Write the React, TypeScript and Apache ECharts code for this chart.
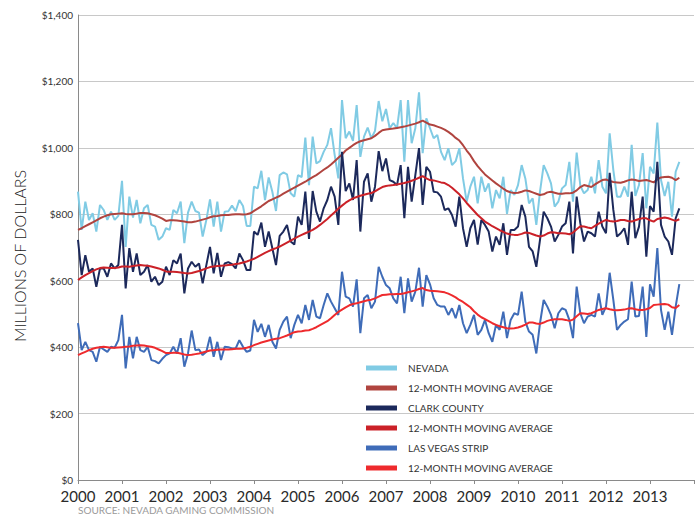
import React, { useEffect, useRef } from "react";
import * as echarts from "echarts";

// Monthly gaming revenue, Jan 2000 – Sep 2013 (millions of dollars)
const START_YEAR = 2000;
const yearTicks = [2000, 2001, 2002, 2003, 2004, 2005, 2006, 2007, 2008, 2009, 2010, 2011, 2012, 2013];

const nevada = [
  868, 753, 838, 783, 803, 748, 828, 813, 783, 808, 783, 795,
  901, 702, 853, 790, 843, 773, 818, 828, 768, 763, 723, 733,
  758, 753, 813, 803, 838, 713, 805, 838, 810, 805, 733, 783,
  845, 763, 838, 748, 808, 809, 826, 809, 843, 825, 765, 765,
  883, 878, 931, 843, 911, 868, 810, 918, 926, 920, 863, 853,
  918, 912, 1031, 888, 1034, 953, 960, 988, 1009, 1059, 979, 908,
  1144, 1029, 1049, 1021, 1129, 973, 1034, 1061, 1029, 1051, 1141, 1080,
  1117, 1059, 1075, 1059, 1144, 958, 1144, 1014, 1059, 1167, 984, 1089,
  1059, 1029, 1039, 988, 963, 999, 948, 960, 999, 908, 838, 883,
  913, 833, 913, 868, 893, 818, 873, 848, 913, 801, 873, 858,
  888, 948, 908, 833, 848, 768, 868, 948, 923, 893, 823, 838,
  878, 888, 958, 838, 986, 886, 863, 873, 913, 863, 963, 883,
  863, 1044, 933, 853, 853, 883, 853, 1009, 855, 888, 984, 818,
  943, 923, 1076, 903, 855, 898, 793, 928, 958,
];

const nevadaAvg = [
  753, 758, 764, 770, 776, 782, 788, 793, 797, 800, 801, 802,
  803, 801, 800, 800, 802, 804, 804, 803, 800, 797, 792, 787,
  780, 782, 782, 781, 780, 778, 776, 776, 778, 781, 784, 787,
  791, 794, 795, 797, 798, 798, 799, 800, 800, 799, 800, 803,
  810, 817, 824, 832, 840, 845, 850, 855, 862, 868, 874, 880,
  886, 892, 898, 905, 912, 918, 926, 934, 941, 950, 960, 970,
  980, 992, 1000, 1008, 1015, 1020, 1023, 1026, 1029, 1036, 1045, 1053,
  1055, 1057, 1058, 1060, 1062, 1064, 1067, 1070, 1073, 1077, 1082, 1076,
  1070, 1068, 1064, 1060, 1055, 1048, 1040, 1030, 1022, 1008, 992, 978,
  960, 945, 932, 920, 911, 902, 893, 885, 877, 870, 866, 864,
  865, 868, 872, 870, 866, 862, 858, 860, 866, 868, 865, 862,
  862, 863, 863, 865, 872, 882, 888, 885, 882, 890, 897, 903,
  905, 900, 897, 896, 895, 898, 902, 905, 903, 900, 902, 903,
  900, 896, 905, 911, 912, 913, 910, 903, 910,
];

const clarkCounty = [
  723, 617, 677, 627, 637, 582, 637, 637, 612, 652, 637, 647,
  768, 577, 698, 627, 682, 617, 627, 647, 597, 612, 587, 597,
  642, 617, 662, 652, 682, 562, 637, 657, 642, 652, 592, 647,
  702, 622, 684, 612, 652, 656, 650, 637, 682, 662, 632, 632,
  748, 738, 775, 702, 748, 698, 647, 735, 748, 768, 718, 709,
  793, 768, 868, 726, 870, 808, 778, 818, 843, 883, 853, 768,
  988, 870, 893, 843, 963, 748, 898, 923, 838, 883, 990, 930,
  968, 903, 898, 888, 948, 788, 943, 838, 918, 999, 828, 943,
  928, 868, 866, 853, 813, 818, 798, 763, 853, 758, 702, 758,
  783, 709, 783, 768, 748, 688, 733, 708, 773, 678, 753, 753,
  763, 828, 793, 702, 688, 642, 723, 808, 788, 763, 718, 738,
  763, 773, 838, 682, 853, 773, 718, 748, 743, 733, 808, 763,
  743, 925, 813, 733, 743, 758, 708, 868, 728, 763, 853, 672,
  825, 808, 958, 768, 733, 718, 678, 788, 818,
];

const clarkAvg = [
  602, 610, 617, 623, 629, 634, 638, 640, 639, 638, 638, 640,
  643, 643, 642, 644, 646, 647, 646, 645, 643, 640, 637, 633,
  628, 627, 627, 626, 625, 623, 622, 623, 626, 629, 633, 637,
  641, 643, 644, 645, 646, 647, 648, 650, 652, 655, 658, 662,
  666, 672, 678, 684, 689, 694, 698, 703, 709, 715, 721, 727,
  733, 738, 743, 748, 753, 760, 768, 777, 786, 796, 806, 817,
  826, 835, 842, 848, 852, 856, 859, 862, 864, 869, 876, 882,
  885, 887, 888, 890, 892, 894, 897, 901, 905, 910, 915, 908,
  903, 902, 899, 896, 894, 888, 880, 870, 860, 848, 834, 822,
  810, 798, 788, 778, 771, 764, 758, 752, 747, 742, 739, 738,
  738, 741, 745, 744, 740, 736, 733, 736, 742, 746, 745, 743,
  743, 742, 740, 745, 755, 764, 763, 760, 758, 765, 772, 778,
  783, 780, 778, 780, 783, 783, 780, 778, 782, 786, 788, 788,
  782, 778, 786, 788, 790, 788, 784, 780, 785,
];

const lasVegasStrip = [
  472, 391, 416, 391, 386, 356, 401, 393, 386, 401, 398, 421,
  497, 336, 431, 366, 431, 391, 386, 401, 361, 358, 351, 365,
  376, 381, 401, 381, 427, 341, 381, 450, 391, 393, 376, 386,
  431, 371, 416, 361, 401, 400, 396, 396, 421, 401, 386, 390,
  482, 446, 470, 431, 467, 416, 396, 452, 477, 492, 427, 467,
  497, 472, 527, 482, 542, 492, 487, 527, 562, 537, 517, 497,
  627, 552, 547, 522, 604, 442, 547, 557, 517, 537, 642, 612,
  587, 577, 547, 532, 612, 502, 607, 537, 567, 639, 522, 617,
  589, 547, 527, 522, 522, 497, 517, 487, 527, 472, 442, 467,
  497, 437, 452, 482, 442, 416, 467, 452, 507, 427, 482, 502,
  497, 567, 477, 447, 437, 381, 472, 542, 522, 497, 457, 502,
  517, 512, 482, 427, 582, 502, 472, 492, 497, 492, 562, 497,
  522, 624, 542, 452, 467, 477, 484, 597, 492, 494, 582, 431,
  589, 552, 698, 512, 452, 507, 437, 522, 590,
];

const stripAvg = [
  376, 381, 386, 391, 395, 398, 400, 401, 400, 398, 398, 399,
  400, 401, 402, 404, 405, 406, 405, 403, 401, 398, 393, 388,
  382, 382, 383, 383, 381, 378, 376, 377, 379, 381, 384, 387,
  390, 391, 392, 393, 393, 393, 394, 395, 395, 396, 398, 401,
  406, 410, 414, 417, 420, 423, 425, 427, 431, 435, 440, 445,
  447, 448, 450, 451, 455, 460, 466, 472, 478, 487, 497, 506,
  513, 520, 526, 530, 532, 535, 538, 541, 543, 547, 552, 557,
  558, 559, 559, 560, 560, 562, 565, 568, 571, 575, 578, 572,
  570, 569, 568, 567, 565, 561, 556, 550, 542, 536, 528, 520,
  508, 498, 490, 484, 478, 472, 467, 463, 460, 457, 456, 457,
  459, 463, 468, 474, 474, 471, 470, 474, 479, 482, 484, 484,
  484, 482, 479, 483, 493, 502, 501, 500, 502, 507, 512, 515,
  517, 514, 512, 511, 512, 513, 516, 517, 514, 512, 512, 514,
  518, 527, 528, 529, 530, 528, 520, 518, 527,
];

const seriesNames = [
  "NEVADA",
  "12-MONTH MOVING AVERAGE",
  "CLARK COUNTY",
  "12-MONTH MOVING AVERAGE\u200B",
  "LAS VEGAS STRIP",
  "12-MONTH MOVING AVERAGE\u200B\u200B",
];
const seriesColors = ["#80cbe4", "#b0443f", "#1c295b", "#cb2128", "#3f6cb8", "#ee2a2d"];
const seriesValues = [nevada, nevadaAvg, clarkCounty, clarkAvg, lasVegasStrip, stripAvg];

const FONT = "Lato, 'Open Sans', sans-serif";

export default function App() {
  const ref = useRef<HTMLDivElement>(null);

  useEffect(() => {
    if (!ref.current) return;
    const chart = echarts.init(ref.current, undefined, { renderer: "svg" });
    const toPairs = (arr: number[]) => arr.map((v, i) => [START_YEAR + i / 12, v]);

    chart.setOption({
      animation: false,
      backgroundColor: "#ffffff",
      grid: { left: 78, top: 15, right: 6, bottom: 37, containLabel: false },
      legend: {
        orient: "vertical",
        left: 361,
        top: 357,
        itemWidth: 31,
        itemHeight: 5,
        itemGap: 8,
        icon: "rect",
        data: seriesNames,
        formatter: (name: string) => name.replace(/\u200B/g, ""),
        textStyle: {
          fontFamily: FONT,
          fontSize: 10,
          color: "#333333",
          lineHeight: 12,
          padding: [0, 0, 0, 6],
        },
        selectedMode: false,
      },
      xAxis: {
        type: "value",
        min: 2000,
        max: 2014,
        interval: 1,
        axisLine: { show: true, lineStyle: { color: "#8a8a8a", width: 1 } },
        axisTick: { show: true, length: 4, lineStyle: { color: "#8a8a8a" } },
        splitLine: { show: false },
        axisLabel: {
          margin: 8,
          fontFamily: FONT,
          fontSize: 15,
          color: "#2a2a2a",
          formatter: (v: number) => (yearTicks.includes(v) ? String(v) : ""),
        },
      },
      yAxis: {
        type: "value",
        min: 0,
        max: 1400,
        interval: 200,
        axisLine: { show: true, lineStyle: { color: "#8a8a8a", width: 1 } },
        axisTick: { show: false },
        splitLine: { show: true, lineStyle: { color: "#c8c8c8", width: 1 } },
        axisLabel: {
          margin: 5,
          fontFamily: FONT,
          fontSize: 10,
          color: "#333333",
          formatter: (v: number) => "$" + v.toLocaleString("en-US"),
        },
      },
      graphic: [
        {
          type: "text",
          x: 19,
          y: 256,
          rotation: Math.PI / 2,
          style: {
            text: "MILLIONS OF DOLLARS",
            fontFamily: FONT,
            fontSize: 16,
            fontWeight: 300,
            fill: "#222222",
            textAlign: "center",
            textVerticalAlign: "middle",
          },
        },
        {
          type: "text",
          x: 78,
          y: 510,
          style: {
            text: "SOURCE: NEVADA GAMING COMMISSION",
            fontFamily: FONT,
            fontSize: 10,
            fill: "#9a9a9a",
            textAlign: "left",
            textVerticalAlign: "middle",
          },
        },
      ],
      series: seriesNames.map((name, k) => ({
        name,
        type: "line",
        data: toPairs(seriesValues[k]),
        showSymbol: false,
        symbol: "none",
        smooth: false,
        color: seriesColors[k],
        lineStyle: { color: seriesColors[k], width: 2 },
        z: 2 + k,
      })),
    });

    return () => chart.dispose();
  }, []);

  return (
    <div
      ref={ref}
      style={{ position: "absolute", left: 0, top: 0, width: 700, height: 517 }}
    />
  );
}
